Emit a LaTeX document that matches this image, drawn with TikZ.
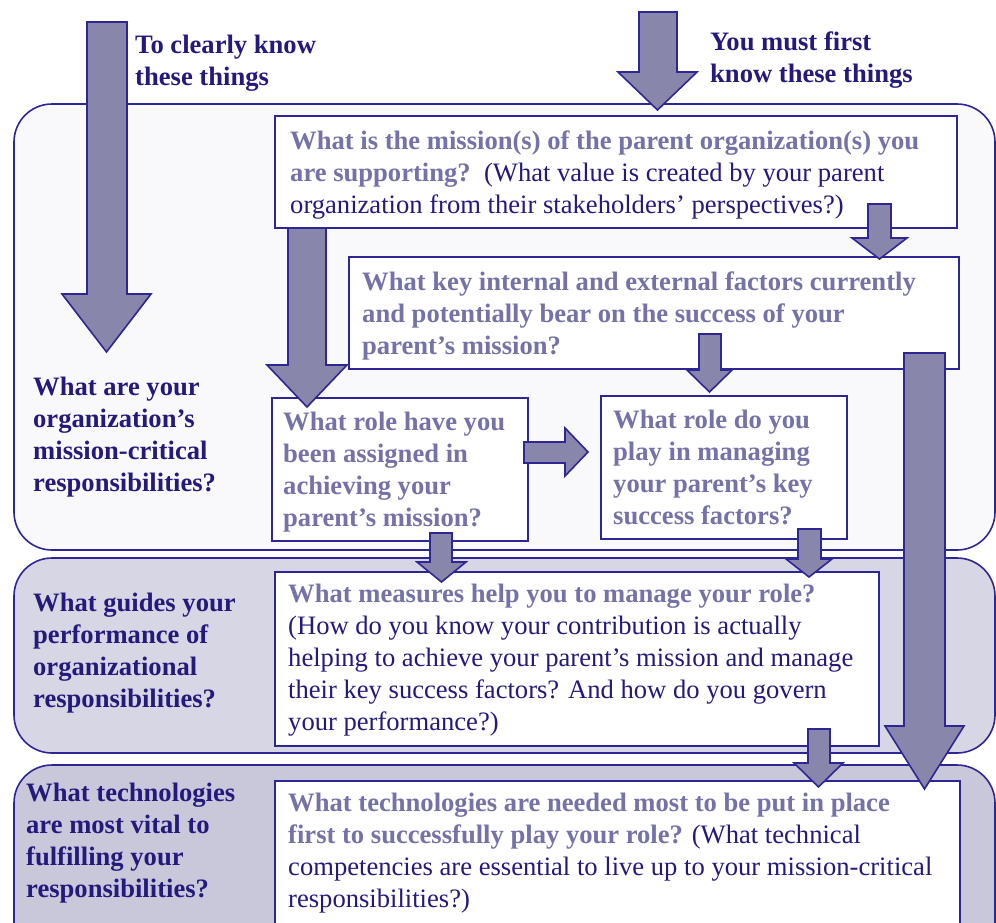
\documentclass[tikz,border=0pt]{standalone}
\usepackage{fontspec}
\setmainfont{Liberation Serif}
\definecolor{navy}{HTML}{231A7C}
\definecolor{qgray}{HTML}{7472A6}
\definecolor{arrowfill}{HTML}{8886AA}
\definecolor{edge}{HTML}{2E2694}
\definecolor{topfill}{HTML}{F9F9FB}
\definecolor{midfill}{HTML}{D7D6E4}
\definecolor{lowfill}{HTML}{C9C8DB}
\newcommand\qb[1]{{\bfseries\color{qgray}#1}}
\newcommand\qn[1]{{\color{navy}#1}}
% block arrow pointing down: shaft left, shaft right, top, head start, head left, head right, tip
\newcommand\blockdown[7]{%
  \filldraw[blockarrow] (#1,#3) -- (#2,#3) -- (#2,#4) -- (#6,#4) -- ({(#5+#6)/2},#7)
    -- (#5,#4) -- (#1,#4) -- cycle;}
\tikzset{
  panel/.style={draw=edge, line width=1.6pt, rounded corners=38pt},
  qbox/.style={draw=edge, line width=1.6pt, fill=white},
  blockarrow/.style={draw=edge, line width=1.6pt, fill=arrowfill, line join=miter},
  % multi-line nodes are placed by the baseline of their last line
  txt/.style={anchor=base west, inner sep=0pt, align=left,
    font=\fontsize{26.6}{32}\selectfont},
  head/.style={txt, text=navy, font=\fontsize{26.6}{32}\selectfont\bfseries},
}
\begin{document}
\begin{tikzpicture}[x=1pt,y=-1pt]
\useasboundingbox (0,0) rectangle (996,922);

% three horizontal bands
\draw[panel, fill=topfill] (14,104) rectangle (995,550);
\draw[panel, fill=midfill] (14,558) rectangle (995,753);
\draw[panel, fill=lowfill] (14,765) rectangle (995,980);

% question boxes
\draw[qbox] (275,116) rectangle (957,228) coordinate (b1);
\draw[qbox] (349,257) rectangle (959,369) coordinate (b2);
\draw[qbox] (272,398) rectangle (528,541) coordinate (b3);
\draw[qbox] (601,396) rectangle (847,539) coordinate (b4);
\draw[qbox] (275,572) rectangle (879,746) coordinate (b5);
\draw[qbox] (275,781) rectangle (960,960) coordinate (b6);

% block arrows
\blockdown{87}{127}{22}{294}{62}{151}{352}
\blockdown{639}{677}{12}{72}{618}{697}{110}
\blockdown{288}{326}{228}{365}{267}{347}{407}
\blockdown{868}{891}{204}{238}{852}{907}{259}
\blockdown{699}{721}{334}{370}{687}{732}{392}
\blockdown{430}{452}{533}{562}{417}{466}{582}
\blockdown{798}{821}{529}{559}{786}{832}{577}
\blockdown{904}{945}{353}{726}{885}{964}{789}
\blockdown{808}{830}{729}{763}{794}{843}{787}
\filldraw[blockarrow] (524,442) -- (565,442) -- (565,428) -- (588,452)
  -- (565,476) -- (565,463) -- (524,463) -- cycle;

% captions above
\node[head] (c1) at (135,85) {To clearly know\\these things};
\node[head] (c2) at (710,82) {You must first\\know these things};

% left-hand questions
\node[head] (l1) at (33,491) {What are your\\organization’s\\mission-critical\\responsibilities?};
\node[head] (l2) at (33,707) {What guides your\\performance of\\organizational\\responsibilities?};
\node[head] (l3) at (26,897) {What technologies\\are most vital to\\fulfilling your\\responsibilities?};

% box texts
\node[txt] (t1) at (290,213) {\qb{What is the mission(s) of the parent organization(s) you}\\
  \qb{are supporting?}\ \ \qn{(What value is created by your parent}\\
  \qn{organization from their stakeholders’ perspectives?)}};
\node[txt] (t2) at (362,354) {\qb{What key internal and external factors currently}\\
  \qb{and potentially bear on the success of your}\\
  \qb{parent’s mission?}};
\node[txt] (t3) at (283,526) {\qb{What role have you}\\\qb{been assigned in}\\
  \qb{achieving your}\\\qb{parent’s mission?}};
\node[txt] (t4) at (613,524) {\qb{What role do you}\\\qb{play in managing}\\
  \qb{your parent’s key}\\\qb{success factors?}};
\node[txt] (t5) at (288,730) {\qb{What measures help you to manage your role?}\\
  \qn{(How do you know your contribution is actually}\\
  \qn{helping to achieve your parent’s mission and manage}\\
  \qn{their key success factors? And how do you govern}\\
  \qn{your performance?)}};
\node[txt] (t6) at (288,907) {\qb{What technologies are needed most to be put in place}\\
  \qb{first to successfully play your role?} \qn{(What technical}\\
  \qn{competencies are essential to live up to your mission-critical}\\
  \qn{responsibilities?)}};
\end{tikzpicture}
\end{document}
